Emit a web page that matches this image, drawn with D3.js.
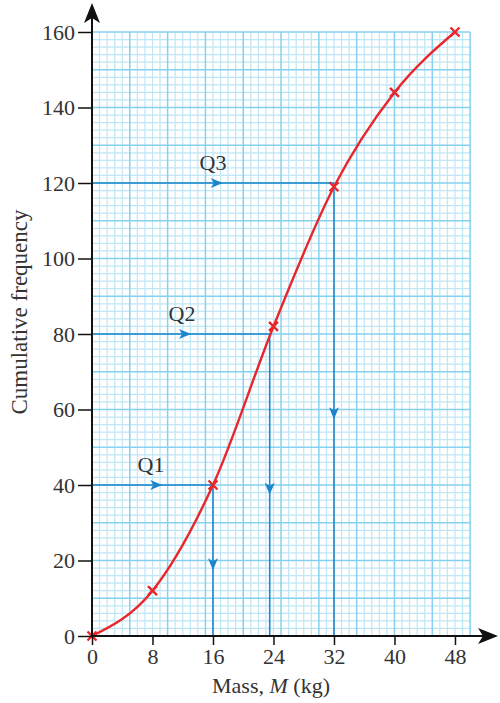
<!DOCTYPE html>
<html>
<head>
<meta charset="utf-8">
<script src="https://cdn.jsdelivr.net/npm/d3@7"></script>
<style>
  html, body { margin: 0; padding: 0; background: #fff; }
  svg { display: block; }
  text { font-family: "Liberation Serif", "DejaVu Serif", serif; fill: #333; }
</style>
</head>
<body>
<svg id="chart" width="500" height="703"></svg>
<script>
// Cumulative frequency of mass
const masses = [0, 8, 16, 24, 32, 40, 48];
const cumFreq = [0, 12, 40, 82, 119, 144, 160];
const xTicks = [0, 8, 16, 24, 32, 40, 48];
const yTicks = [0, 20, 40, 60, 80, 100, 120, 140, 160];

// Quartile read-offs: label, frequency, mass where the curve is met,
// position of the horizontal arrowhead (kg) and the vertical arrowhead (freq)
const quartileNames = ["Q1", "Q2", "Q3"];
const quartileFreq = [40, 80, 120];
const quartileMass = [16, 23.5, 32];
const hArrowAt = [8.5, 12.3, 16.5];
const vArrowAt = [19, 39, 59];
const labelAt = [7.8, 11.9, 16.0];

const svg = d3.select("#chart");
const x = d3.scaleLinear().domain([0, 50]).range([92, 470.1]);
const y = d3.scaleLinear().domain([0, 160]).range([636, 32]);

// graph paper grid
const grid = svg.append("g");
const minorX = d3.range(0, 51, 1), minorY = d3.range(0, 161, 2);
grid.selectAll(".mx").data(minorX.filter(d => d % 5 !== 0)).join("line")
  .attr("x1", d => x(d)).attr("x2", d => x(d)).attr("y1", y(0)).attr("y2", y(160))
  .attr("stroke", "#bfe6f6").attr("stroke-width", 1.2);
grid.selectAll(".my").data(minorY.filter(d => d % 10 !== 0)).join("line")
  .attr("y1", d => y(d)).attr("y2", d => y(d)).attr("x1", x(0)).attr("x2", x(50))
  .attr("stroke", "#bfe6f6").attr("stroke-width", 1.2);
grid.selectAll(".Mx").data(d3.range(5, 51, 5)).join("line")
  .attr("x1", d => x(d)).attr("x2", d => x(d)).attr("y1", y(0)).attr("y2", y(160))
  .attr("stroke", "#86d1ef").attr("stroke-width", 1.5);
grid.selectAll(".My").data(d3.range(10, 161, 10)).join("line")
  .attr("y1", d => y(d)).attr("y2", d => y(d)).attr("x1", x(0)).attr("x2", x(50))
  .attr("stroke", "#86d1ef").attr("stroke-width", 1.5);

// quartile construction lines
const blue = "#1b86cc";
const q = svg.append("g");
quartileNames.forEach((name, i) => {
  const yy = y(quartileFreq[i]), xx = x(quartileMass[i]);
  q.append("line").attr("x1", x(0)).attr("x2", xx).attr("y1", yy).attr("y2", yy)
    .attr("stroke", blue).attr("stroke-width", 1.6);
  q.append("line").attr("x1", xx).attr("x2", xx).attr("y1", yy).attr("y2", y(0))
    .attr("stroke", blue).attr("stroke-width", 1.6);
  // right-pointing arrowhead
  const hx = x(hArrowAt[i]);
  q.append("path")
    .attr("d", `M${hx + 6},${yy} L${hx - 6},${yy - 5} L${hx - 3},${yy} L${hx - 6},${yy + 5} Z`)
    .attr("fill", blue);
  // down-pointing arrowhead
  const vy = y(vArrowAt[i]);
  q.append("path")
    .attr("d", `M${xx},${vy + 6} L${xx - 5},${vy - 6} L${xx},${vy - 3} L${xx + 5},${vy - 6} Z`)
    .attr("fill", blue);
  q.append("text").attr("x", x(labelAt[i])).attr("y", yy - 13)
    .attr("text-anchor", "middle").attr("font-size", 22).text(name);
});

// curve
const red = "#e8262c";
const pts = masses.map((m, i) => [m, cumFreq[i]]);
const line = d3.line().x(d => x(d[0])).y(d => y(d[1])).curve(d3.curveMonotoneX);
svg.append("path").datum(pts).attr("d", line)
  .attr("fill", "none").attr("stroke", red).attr("stroke-width", 2.4);
svg.selectAll(".pt").data(pts).join("path")
  .attr("d", d => {
    const cx = x(d[0]), cy = y(d[1]), s = 4.5;
    return `M${cx - s},${cy - s}L${cx + s},${cy + s}M${cx - s},${cy + s}L${cx + s},${cy - s}`;
  })
  .attr("stroke", red).attr("stroke-width", 2.4);

// axes
const axes = svg.append("g");
axes.append("line").attr("x1", x(0)).attr("x2", 485).attr("y1", y(0)).attr("y2", y(0))
  .attr("stroke", "#111").attr("stroke-width", 2);
axes.append("line").attr("x1", x(0)).attr("x2", x(0)).attr("y1", y(0)).attr("y2", 15)
  .attr("stroke", "#111").attr("stroke-width", 2);
axes.append("path")
  .attr("d", `M498,${y(0)} L478,${y(0) - 8} L483,${y(0)} L478,${y(0) + 8} Z`).attr("fill", "#111");
axes.append("path")
  .attr("d", `M${x(0)},3 L${x(0) - 8},23 L${x(0)},18 L${x(0) + 8},23 Z`).attr("fill", "#111");

const xAxis = d3.axisBottom(x).tickValues(xTicks).tickSize(9).tickPadding(3);
const gx = svg.append("g").attr("transform", `translate(0,${y(0)})`).call(xAxis);
gx.select(".domain").remove();
gx.selectAll(".tick line").attr("stroke", "#111").attr("stroke-width", 1.5);
gx.selectAll(".tick text").attr("font-size", 22).attr("fill", "#333")
  .attr("font-family", "Liberation Serif, serif");

const yAxis = d3.axisLeft(y).tickValues(yTicks).tickSize(14).tickPadding(3);
const gy = svg.append("g").attr("transform", `translate(${x(0)},0)`).call(yAxis);
gy.select(".domain").remove();
gy.selectAll(".tick line").attr("stroke", "#111").attr("stroke-width", 1.5);
gy.selectAll(".tick text").attr("font-size", 22).attr("fill", "#333")
  .attr("font-family", "Liberation Serif, serif");

// axis titles
const xt = svg.append("text").attr("x", 271).attr("y", 693).attr("text-anchor", "middle")
  .attr("font-size", 22);
xt.append("tspan").text("Mass, ");
xt.append("tspan").attr("font-style", "italic").text("M");
xt.append("tspan").text(" (kg)");

svg.append("text").attr("transform", "translate(27,312) rotate(-90)")
  .attr("text-anchor", "middle").attr("font-size", 23).text("Cumulative frequency");
</script>
</body>
</html>
